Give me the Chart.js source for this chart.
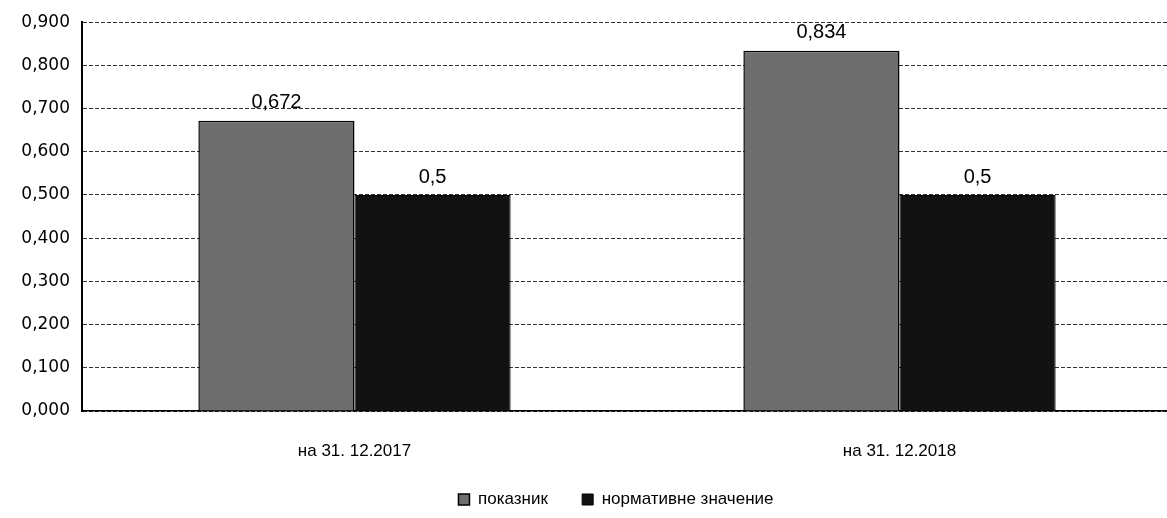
<!DOCTYPE html>
<html>
<head>
<meta charset="utf-8">
<script src="https://cdn.jsdelivr.net/npm/chart.js@4"></script>
<style>
  html, body { margin: 0; padding: 0; background: #fff; overflow: hidden; }
  #wrap { width: 1172px; height: 518px; position: relative; }
</style>
</head>
<body>
<div id="wrap"><canvas id="ratioChart"></canvas></div>
<script>
var categories = ['на 31. 12.2017', 'на 31. 12.2018'];
var seriesNames = ['показник', 'нормативне значение'];
var indicatorValues = [0.672, 0.834];
var normValues = [0.5, 0.5];
var yTicks = [0, 0.1, 0.2, 0.3, 0.4, 0.5, 0.6, 0.7, 0.8, 0.9];

function commaNum(v) {
  return String(v).replace('.', ',');
}

var valueLabels = {
  id: 'valueLabels',
  afterDatasetsDraw: function(chart) {
    var ctx = chart.ctx;
    ctx.save();
    ctx.font = '20px "Liberation Sans", Arial, sans-serif';
    ctx.fillStyle = '#000';
    ctx.textAlign = 'center';
    ctx.textBaseline = 'bottom';
    chart.data.datasets.forEach(function(ds, i) {
      chart.getDatasetMeta(i).data.forEach(function(bar, j) {
        ctx.fillText(commaNum(ds.data[j]), bar.x, bar.y - 8);
      });
    });
    ctx.restore();
  }
};

// legend sits a bit right of centre in the original
var legendShift = {
  id: 'legendShift',
  afterLayout: function(chart) {
    chart.legend.left += 30;
    chart.legend.right += 30;
  }
};

var ctx = document.getElementById('ratioChart').getContext('2d');
var chart = new Chart(ctx, {
  type: 'bar',
  data: {
    labels: categories,
    datasets: [{
      label: seriesNames[0],
      data: indicatorValues,
      backgroundColor: '#6e6e6e',
      borderColor: '#000',
      borderWidth: 1.5
    }, {
      label: seriesNames[1],
      data: normValues,
      backgroundColor: '#121212',
      borderColor: '#000',
      borderWidth: 1
    }]
  },
  options: {
    responsive: true,
    maintainAspectRatio: false,
    animation: false,
    layout: { padding: { top: 17, left: 0, right: 0, bottom: 0 } },
    datasets: {
      bar: { categoryPercentage: 0.573, barPercentage: 1 }
    },
    plugins: {
      tooltip: { enabled: false },
      legend: {
        position: 'bottom',
        labels: {
          boxWidth: 11,
          boxHeight: 11,
          color: '#000',
          padding: 6,
          font: { family: '"Liberation Sans", Arial, sans-serif', size: 17 },
          generateLabels: function(chart) {
            var items = Chart.defaults.plugins.legend.labels.generateLabels(chart);
            items[0].text = items[0].text + '      ';
            return items;
          }
        }
      }
    },
    scales: {
      x: {
        afterFit: function(scale) { scale.height = 74; },
        grid: { display: false },
        border: { color: '#000', width: 1.5 },
        ticks: {
          color: '#000',
          padding: 22,
          font: { family: '"Liberation Sans", Arial, sans-serif', size: 17 }
        }
      },
      y: {
        min: 0,
        max: 0.9,
        afterFit: function(scale) { scale.width = 82; },
        afterBuildTicks: function(scale) {
          scale.ticks = yTicks.map(function(v) { return { value: v }; });
        },
        border: { color: '#000', width: 2, dash: [4, 2] },
        grid: {
          color: '#333',
          lineWidth: 1,
          drawTicks: false
        },
        ticks: {
          color: '#000',
          padding: 12,
          font: { family: '"DejaVu Sans", sans-serif', size: 17 },
          callback: function(v) { return v.toFixed(3).replace('.', ','); }
        }
      }
    }
  },
  plugins: [valueLabels, legendShift]
});
</script>
</body>
</html>
